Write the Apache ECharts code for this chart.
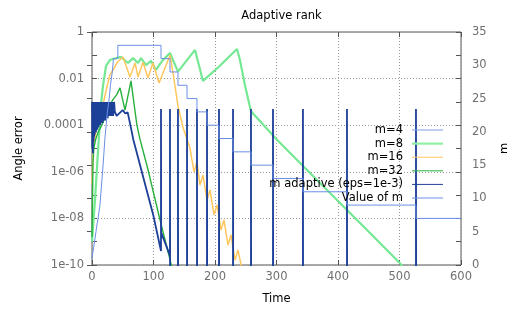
<!DOCTYPE html>
<html>
<head>
<meta charset="utf-8">
<script src="https://cdn.jsdelivr.net/npm/echarts@6/dist/echarts.min.js"></script>
<style>
  html, body { margin: 0; padding: 0; background: #fff; }
  #chart { width: 507px; height: 310px; }
</style>
</head>
<body>
<div id="chart"></div>
<script>
// errors are kept as log10(angle error)
const m4T = [];
const m4E = [];

const m8T = [0, 4.9, 9.8, 13, 14.6, 17.9, 22.8, 29.3, 34, 47, 58.5, 66.7, 74.8, 79.7, 87.8, 95.9, 104, 115.4, 126.8, 139.8, 167.5, 180.5, 208, 235.8, 240.6, 248.8, 258.5, 300, 350, 400, 450, 500, 512];
const m8E = [-9.0, -7.2, -5.1, -3.8, -3.1, -2.3, -1.46, -1.2, -1.16, -1.07, -1.33, -1.12, -1.33, -1.12, -1.42, -1.24, -1.63, -1.2, -0.9, -1.7, -0.77, -2.1, -1.45, -0.73, -1.2, -2.3, -3.4, -4.6, -5.93, -7.25, -8.57, -9.9, -10.3];

const m16T = [0, 2, 5, 8, 13, 18, 23, 29, 36, 41, 50.4, 61.8, 70, 74.8, 83, 91, 99, 109, 127, 131.7, 140, 148, 159.3, 165.9, 170.7, 175.6, 180.5, 187, 191.9, 198.4, 203.3, 209.8, 214.6, 221.1, 226, 232.5, 237.4, 244];
const m16E = [-6.5, -5.0, -4.5, -4.0, -3.6, -3.1, -2.5, -1.85, -1.55, -1.3, -1.07, -1.93, -1.33, -1.93, -1.3, -1.97, -1.33, -2.19, -0.99, -1.76, -3.2, -4.1, -4.98, -6.0, -5.58, -6.57, -6.14, -7.21, -6.78, -7.85, -7.42, -8.5, -8.07, -9.14, -8.71, -9.79, -9.36, -10.2];

const m32T = [0, 0.8, 1.6, 3, 6, 10, 16, 22, 28, 34, 40, 45.5, 53.7, 63.4, 70, 73, 78, 91, 100, 110, 120, 128, 132];
const m32E = [-8.8, -7.2, -5.6, -5.0, -4.6, -4.3, -4.0, -3.6, -3.2, -2.9, -2.7, -2.4, -3.35, -2.1, -3.4, -4.0, -4.6, -5.9, -6.9, -8.0, -9.05, -9.9, -10.3];

// adaptive run: fast oscillation at eps, then a decay, then a spike at every change of m
const adaptiveStart = [[0,-3.0],[0.5,-5.0],[1,-3.0],[1.5,-5.2],[2,-3.0],[2.5,-4.7],[3,-3.0],[3.5,-4.5],[4,-3.0],[4.5,-4.4],[5,-3.0],[5.5,-4.3],[6,-3.0],[6.5,-4.3],[7,-3.0],[7.5,-4.1],[8,-3.0],[8.5,-4.2],[9,-3.0],[9.5,-4.0],[10,-3.0],[10.5,-4.1],[11,-3.0],[11.5,-4.0],[12,-3.0],[12.5,-3.9],[13,-3.0],[13.5,-4.0],[14,-3.0],[14.5,-3.9],[15,-3.0],[15.5,-3.9],[16,-3.0],[16.5,-3.8],[17,-3.0],[17.5,-3.9],[18,-3.0],[18.5,-3.8],[19,-3.0],[19.5,-3.8],[20,-3.0],[20.5,-3.7],[21,-3.0],[21.5,-3.8],[22,-3.0],[22.5,-3.7],[23,-3.0],[23.5,-3.7],[24,-3.0],[24.5,-3.6],[25,-3.0],[25.5,-3.7],[26,-3.0],[26.5,-3.6],[27,-3.0],[27.5,-3.6],[28,-3.0],[28.5,-3.5],[29,-3.0],[29.5,-3.6],[30,-3.0],[30.5,-3.5],[31,-3.0],[31.5,-3.6],[32,-3.0],[32.5,-3.5],[33,-3.0],[33.5,-3.5],[34,-3.0],[34.5,-3.6],[35,-3.0],[35.5,-3.5],[36,-3.0],
  [37,-3.4],[40,-3.6],[42,-3.65],[46,-3.45],[50,-3.35],[54,-3.5],[58,-3.45],[64,-4.2],[67,-4.6],[75,-5.4],[83,-6.2],[100,-7.9],[112.2,-9.4],
  [112.2,-3.3],[112.4,-8.6],[126.8,-9.6],[126.8,-3.3],[127,-11]];
const spikeT = [139.8, 154.5, 170.7, 187, 206.5, 229.3, 258.5, 294.3, 343, 414.6, 526.8];
const spikeTop = -3.3;
const spikeFloor = -11;

const mStepT = [0, 1.6, 3.3, 4.9, 6.5, 8, 9.8, 11.4, 13, 14.6, 16.3, 18, 19.5, 21, 23, 25, 28, 30, 33, 35, 42, 112.2, 126.8, 139.8, 154.5, 170.7, 187, 206.5, 229.3, 258.5, 294.3, 343, 414.6, 526.8, 600];
const mStepV = [1, 2, 3, 4, 5, 6, 7, 8, 9, 11, 13, 15, 17, 19, 21, 23, 25, 27, 29, 31, 33, 31, 29, 27, 25, 23, 21, 19, 17, 15, 13, 11, 9, 7, 7];

// left axis labels, one per two decades
const errTickLabels = { '0': '1', '-2': '0.01', '-4': '0.0001', '-6': '1e-06', '-8': '1e-08', '-10': '1e-10' };

const FONT = 'DejaVu Sans';
const GRAY = '#707070';

function toPts(ts, es) {
  return ts.map((t, i) => [t, Math.pow(10, es[i])]);
}

let adaptive = adaptiveStart.map(p => [p[0], Math.pow(10, p[1])]);
spikeT.forEach(t => {
  adaptive.push([t, Math.pow(10, spikeFloor)]);
  adaptive.push([t, Math.pow(10, spikeTop)]);
  adaptive.push([t + 0.2, Math.pow(10, spikeFloor)]);
});

let chart = echarts.init(document.getElementById('chart'));
let tick = { inside: true, length: 5, lineStyle: { color: '#555' } };
let lineIcon = 'path://M0,0L31,0L31,1L0,1Z';
let thickIcon = 'path://M0,0L31,0L31,2.2L0,2.2Z';

chart.setOption({
  animation: false,
  backgroundColor: '#fff',
  textStyle: { fontFamily: FONT },
  title: {
    text: 'Adaptive rank',
    left: 276.5,
    textAlign: 'center',
    top: 5,
    textStyle: { fontFamily: FONT, fontSize: 11.5, fontWeight: 'normal', color: '#000' }
  },
  grid: {
    left: 92, right: 46, top: 32, bottom: 45,
    outerBoundsMode: 'none', containLabel: false,
    show: true, borderColor: '#555', borderWidth: 1, backgroundColor: 'transparent'
  },
  legend: {
    orient: 'vertical',
    align: 'right',
    right: 59,
    top: 119,
    itemWidth: 31,
    itemHeight: 12,
    itemGap: 1.6,
    textStyle: { fontFamily: FONT, fontSize: 11.5, color: '#000', padding: [0, 4, 0, 0] },
    data: [
      { name: 'm=4', icon: lineIcon },
      { name: 'm=8', icon: thickIcon },
      { name: 'm=16', icon: lineIcon },
      { name: 'm=32', icon: lineIcon },
      { name: 'm adaptive (eps=1e-3)', icon: lineIcon },
      { name: 'Value of m', icon: lineIcon }
    ]
  },
  xAxis: [{
    type: 'value', min: 0, max: 600, interval: 100,
    name: 'Time', nameLocation: 'middle', nameGap: 28,
    nameTextStyle: { fontFamily: FONT, fontSize: 11.5, color: '#000' },
    axisLine: { show: false },
    axisTick: tick,
    axisLabel: { fontFamily: FONT, fontSize: 11.5, color: GRAY, margin: 6 },
    splitLine: { show: true, lineStyle: { color: '#999', type: [1, 2] } }
  }, {
    type: 'value', min: 0, max: 600, interval: 100, position: 'top',
    axisLine: { show: false }, axisTick: tick,
    axisLabel: { show: false }, splitLine: { show: false }
  }],
  yAxis: [{
    // data axis for the errors
    type: 'log', logBase: 10, min: 1e-10, max: 1, position: 'left',
    axisLine: { show: false }, axisTick: { show: false },
    axisLabel: { show: false }, splitLine: { show: false }
  }, {
    type: 'value', min: 0, max: 35, interval: 5, position: 'right',
    name: 'm', nameLocation: 'middle', nameGap: 38, nameRotate: 90,
    nameTextStyle: { fontFamily: FONT, fontSize: 11.5, color: '#000' },
    axisLine: { show: false },
    axisTick: tick,
    axisLabel: { fontFamily: FONT, fontSize: 11.5, color: GRAY, margin: 11 },
    splitLine: { show: false }
  }, {
    // decade ticks and labels (exponent of the error)
    type: 'value', min: -10, max: 0, interval: 1, position: 'left',
    name: 'Angle error', nameLocation: 'middle', nameGap: 67, nameRotate: 90,
    nameTextStyle: { fontFamily: FONT, fontSize: 11.5, color: '#000' },
    axisLine: { show: false }, axisTick: tick,
    axisLabel: {
      fontFamily: FONT, fontSize: 11.5, color: GRAY, margin: 8,
      formatter: v => errTickLabels[String(v)] || ''
    },
    splitLine: { show: false }
  }, {
    type: 'value', min: -10, max: 0, interval: 1, position: 'right',
    axisLine: { show: false }, axisTick: tick,
    axisLabel: { show: false }, splitLine: { show: false }
  }, {
    // grid lines every two decades
    type: 'value', min: -10, max: 0, interval: 2, position: 'left',
    axisLine: { show: false }, axisTick: { show: false }, axisLabel: { show: false },
    splitLine: { show: true, lineStyle: { color: '#999', type: [1, 2] } }
  }],
  series: [{
    name: 'm=4', type: 'line', yAxisIndex: 0, symbol: 'none',
    lineStyle: { width: 1, color: '#7f9fe8' }, itemStyle: { color: '#7f9fe8' },
    data: toPts(m4T, m4E)
  }, {
    name: 'm=8', type: 'line', yAxisIndex: 0, symbol: 'none',
    lineStyle: { width: 2.2, color: '#74e892' }, itemStyle: { color: '#8ff0a6' },
    data: toPts(m8T, m8E)
  }, {
    name: 'm=16', type: 'line', yAxisIndex: 0, symbol: 'none',
    lineStyle: { width: 1.5, color: '#ffc65e' }, itemStyle: { color: '#ffc65e' },
    data: toPts(m16T, m16E)
  }, {
    name: 'm=32', type: 'line', yAxisIndex: 0, symbol: 'none',
    lineStyle: { width: 1.4, color: '#27b03c' }, itemStyle: { color: '#27b03c' },
    data: toPts(m32T, m32E)
  }, {
    name: 'm adaptive (eps=1e-3)', type: 'line', yAxisIndex: 0, symbol: 'none',
    lineStyle: { width: 1.8, color: '#1c3f98' }, itemStyle: { color: '#1c3f98' },
    data: adaptive
  }, {
    name: 'Value of m', type: 'line', yAxisIndex: 1, symbol: 'none', step: 'end',
    lineStyle: { width: 1, color: '#6a8fe4' }, itemStyle: { color: '#6a8fe4' },
    data: mStepT.map((t, i) => [t, mStepV[i]])
  }]
});
</script>
</body>
</html>
